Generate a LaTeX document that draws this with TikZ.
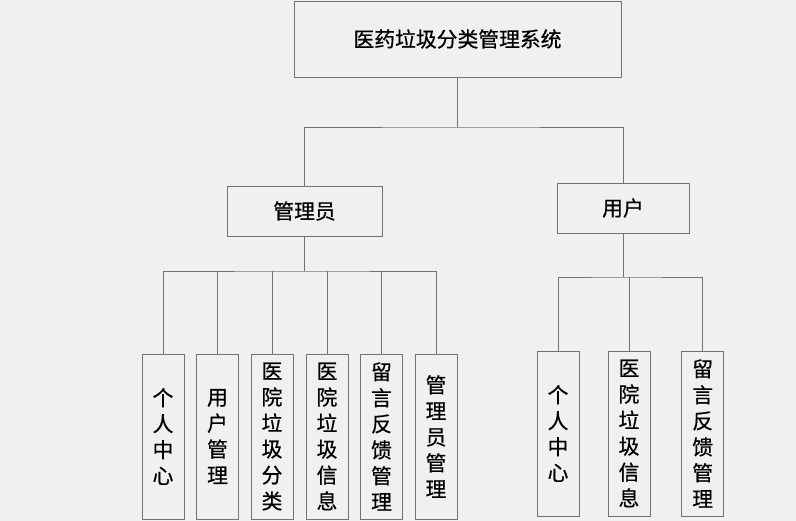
\documentclass[tikz,border=0pt]{standalone}
\usepackage{fontspec}
\newfontfamily\cjk[FakeBold=0.6]{Noto Sans CJK SC}
\definecolor{bgcol}{RGB}{240,240,240}
\definecolor{linecol}{RGB}{115,115,115}
\tikzset{
  box/.style={draw=linecol, line width=0.8pt, inner sep=0pt, align=center,
    font=\cjk\fontsize{20.8}{26}\selectfont},
  topbox/.style={box, minimum height=50pt},
  colbox/.style={box, minimum width=42pt, minimum height=165pt},
  link/.style={draw=linecol, line width=0.8pt}
}
\begin{document}
\begin{tikzpicture}[x=1pt,y=-1pt]
		%background
		\fill[bgcol] (0,0) rectangle (796,521);
		\useasboundingbox (0,0) rectangle (796,521);
		%top levels
		\node[box, minimum width=327pt, minimum height=76pt] (sys) at (457.5,39) {医药垃圾分类管理系统};
		\node[topbox, minimum width=155pt] (admin) at (304.5,211) {管理员};
		\node[topbox, minimum width=132pt] (user) at (623,208) {用户};
		\coordinate (sysbus) at (457.5,127);
		\draw[link] (sys.south) -- (sysbus);
		\draw[link] (admin.north) |- (sysbus) -| (user.north);
		%admin modules
		\node[colbox] (a1) at (163,436.5) {个\\人\\中\\心};
		\node[colbox] (a2) at (217.5,436.5) {用\\户\\管\\理};
		\node[colbox] (a3) at (272,436.5) {医\\院\\垃\\圾\\分\\类};
		\node[colbox] (a4) at (327,436.5) {医\\院\\垃\\圾\\信\\息};
		\node[colbox] (a5) at (381.5,436.5) {留\\言\\反\\馈\\管\\理};
		\node[colbox] (a6) at (436,436.5) {管\\理\\员\\管\\理};
		\coordinate (adminbus) at (304.5,271);
		\draw[link] (admin.south) -- (adminbus);
		\draw[link] (a1.north) |- (adminbus) -| (a6.north);
		\foreach \n in {a2,a3,a4,a5}
			\draw[link] (\n.north) -- (\n.north |- adminbus);
		%user modules
		\node[colbox] (u1) at (558,433.5) {个\\人\\中\\心};
		\node[colbox] (u2) at (629,433.5) {医\\院\\垃\\圾\\信\\息};
		\node[colbox] (u3) at (702.7,433.5) {留\\言\\反\\馈\\管\\理};
		\coordinate (userbus) at (623,277);
		\draw[link] (user.south) -- (userbus);
		\draw[link] (u1.north) |- (userbus) -| (u3.north);
		\draw[link] (u2.north) -- (u2.north |- userbus);
	\end{tikzpicture}
\end{document}
